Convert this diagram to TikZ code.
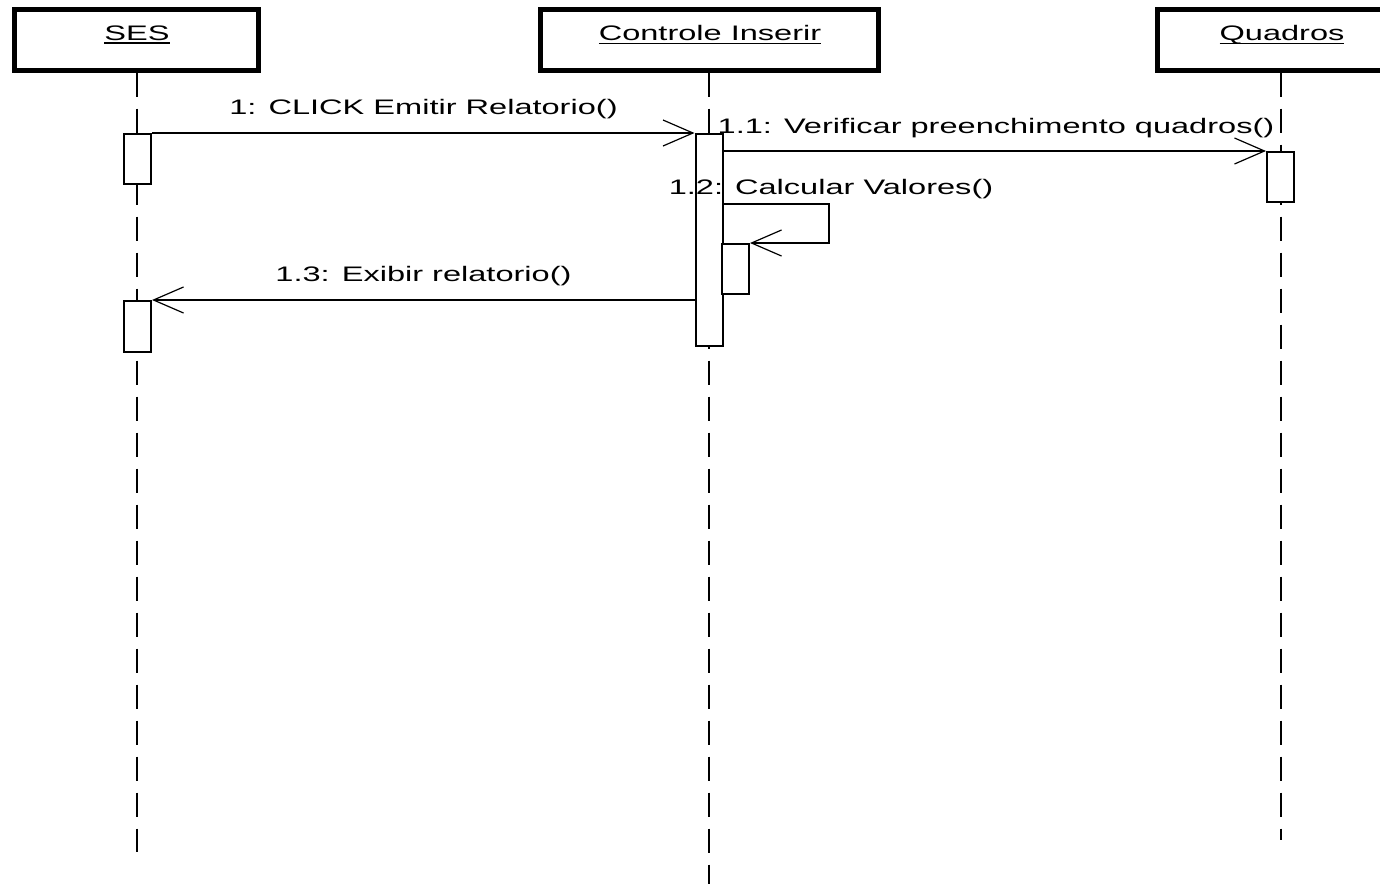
\documentclass[tikz,border=0pt]{standalone}
\usepackage{fontspec}
\setmainfont{Liberation Sans}
\usetikzlibrary{arrows.meta}
% underlined object name with a firm rule
\newcommand{\ulname}[1]{\setbox0\hbox{#1}\rlap{\copy0}\rule[-3.5pt]{\wd0}{1.6pt}}
\begin{document}
\begin{tikzpicture}[x=1pt,y=-1pt,
  objbox/.style={draw,line width=5pt,minimum height=61pt,inner sep=0pt},
  txt/.style={font=\fontsize{21}{24}\selectfont,xscale=1.55,inner sep=0pt},
  lifeline/.style={line width=2pt,dash pattern=on 24pt off 12pt},
  act/.style={draw,fill=white,line width=2pt,minimum width=27pt,inner sep=0pt,anchor=north},
  msg/.style={line width=1.6pt,-{Straight Barb[length=30pt,width=26pt,line width=1.2pt]}},
]
\clip (0,0) rectangle (1380,884);

% objects
\node[objbox,minimum width=244pt] (ses) at (136,39.5) {};
\node[objbox,minimum width=338pt] (ctl) at (709,39.5) {};
\node[objbox,minimum width=250pt] (qd) at (1282,39.5) {};
\node[txt] (sesName) at (137,35) {\ulname{SES}};
\node[txt] (ctlName) at (710,35) {\ulname{Controle Inserir}};
\node[txt] (qdName) at (1282,35) {\ulname{Quadros}};

% lifelines
\coordinate (sesEnd) at (137,852);
\coordinate (ctlEnd) at (709,884);
\coordinate (qdEnd) at (1281,840);
\draw[lifeline] (ses.south -| sesEnd) -- (sesEnd);
\draw[lifeline] (ctl.south -| ctlEnd) -- (ctlEnd);
\draw[lifeline] (qd.south -| qdEnd) -- (qdEnd);

% activations
\node[act,minimum height=50pt] (sesA1) at (137.5,133) {};
\node[act,minimum height=51pt] (sesA2) at (137.5,300) {};
\node[act,minimum height=212pt] (ctlA) at (709,133) {};
\node[act,minimum height=50pt] (ctlB) at (735.5,243) {};
\node[act,minimum height=50pt] (qdA) at (1280.5,151) {};

% messages
\draw[msg] (sesA1.north east) -- (ctlA.north west);
\node[txt] (m1) at (423.5,109) {1: CLICK Emitir Relatorio()};

\draw[msg] (ctlA.east |- qdA.north) -- (qdA.north west);
\node[txt] (m11) at (996,128) {1.1: Verificar preenchimento quadros()};

\coordinate (loopR) at (829,204);
\draw[msg] (ctlA.east |- loopR) -- (loopR) -- (loopR |- ctlB.north) -- (ctlB.north east);
\node[txt] (m12) at (831,189) {1.2: Calcular Valores()};

\draw[msg] (ctlA.west |- sesA2.north) -- (sesA2.north east);
\node[txt] (m13) at (423.5,276) {1.3: Exibir relatorio()};
\end{tikzpicture}
\end{document}
